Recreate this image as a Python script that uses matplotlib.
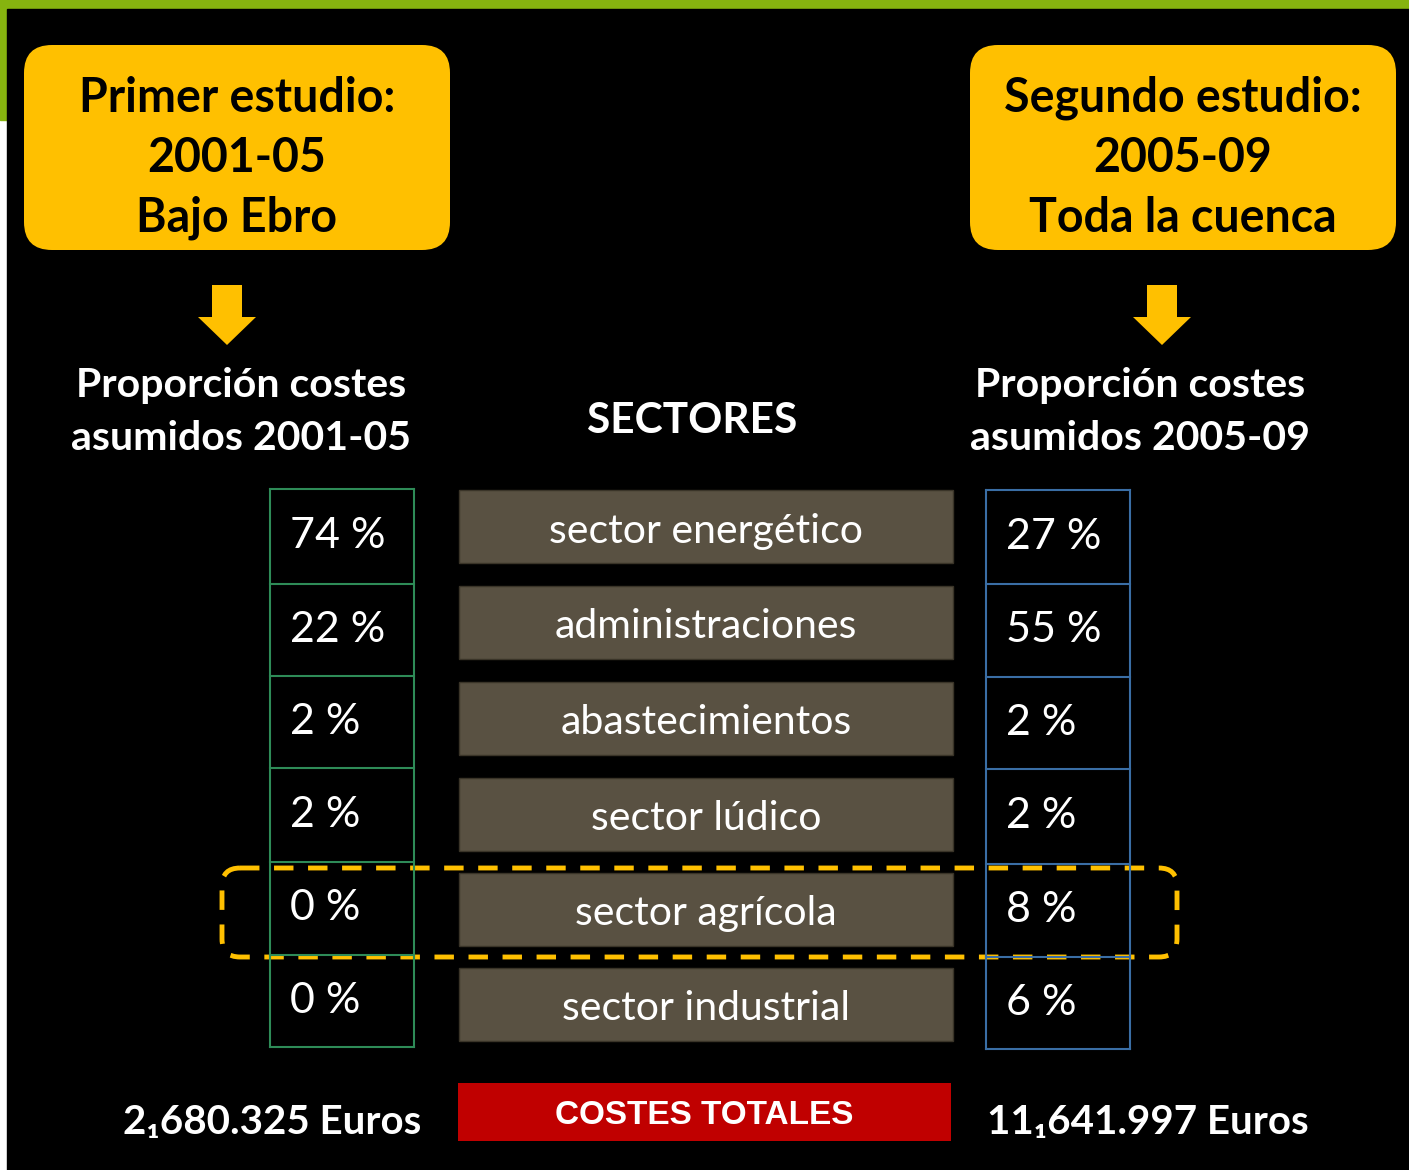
import matplotlib.pyplot as plt
from matplotlib.patches import Rectangle, FancyBboxPatch, FancyArrow

# data
studies = ["Primer estudio:\n2001-05\nBajo Ebro", "Segundo estudio:\n2005-09\nToda la cuenca"]
prop_titles = ["Proporción costes\nasumidos 2001-05", "Proporción costes\nasumidos 2005-09"]
sectors = ["sector energético", "administraciones", "abastecimientos",
           "sector lúdico", "sector agrícola", "sector industrial"]
pct_2001 = [74, 22, 2, 2, 0, 0]
pct_2005 = [27, 55, 2, 2, 8, 6]
totals = ["2₁680.325 Euros", "11₁641.997 Euros"]

plt.rcParams['font.family'] = ['Lato', 'DejaVu Sans']

W, H = 1409, 1170
fig = plt.figure(figsize=(W / 100, H / 100), dpi=100)
ax = fig.add_axes([0, 0, 1, 1])
ax.set_xlim(0, W)
ax.set_ylim(H, 0)
ax.axis('off')
fig.patch.set_facecolor('white')

green = '#86B40F'
yellow = '#FFC000'
ax.add_patch(Rectangle((0, 0), W, 9, color=green))
ax.add_patch(Rectangle((0, 0), 7, 120, color=green))
ax.add_patch(Rectangle((7, 9), W - 7, H - 9, color='black'))

# study boxes
for cx, txt in zip([237, 1183], studies):
    ax.add_patch(FancyBboxPatch((cx - 213 + 28, 45 + 28), 426 - 56, 205 - 56,
                                boxstyle="round,pad=28", fc=yellow, ec='none'))
    for i, line in enumerate(txt.split("\n")):
        ax.text(cx, 98 + 60 * i, line, ha='center', va='center', fontsize=33.5,
                fontweight='bold', color='black')

# arrows
for cx in [227, 1162]:
    ax.add_patch(FancyArrow(cx, 285, 0, 60, width=30, head_width=58,
                            head_length=28, length_includes_head=True,
                            fc=yellow, ec='none'))

for cx, txt in zip([241, 1140], prop_titles):
    for i, line in enumerate(txt.split("\n")):
        ax.text(cx, 385 + 53 * i, line, ha='center', va='center', fontsize=29.5,
                fontweight='bold', color='white')

ax.text(692, 421, "SECTORES", ha='center', va='center', fontsize=30.5,
        fontweight='bold', color='white')

# tables
left_rows = [489, 584, 676, 768, 862, 955, 1047]
right_rows = [490, 584, 677, 769, 864, 957, 1049]
bar_tops = [490, 586, 682, 778, 873, 968]

for x0, x1, rows, vals, col, tx in [(270, 414, left_rows, pct_2001, '#2E8B57', 290),
                                     (986, 1130, right_rows, pct_2005, '#3A6EA5', 1006)]:
    for y in rows:
        ax.plot([x0, x1], [y, y], color=col, lw=1.5)
    ax.plot([x0, x0], [rows[0], rows[-1]], color=col, lw=1.5)
    ax.plot([x1, x1], [rows[0], rows[-1]], color=col, lw=1.5)
    for i, v in enumerate(vals):
        yc = (rows[i] + rows[i + 1]) / 2
        ax.text(tx, yc, f"{v} %", ha='left', va='center', fontsize=31,
                color='white')

for yt, s in zip(bar_tops, sectors):
    ax.add_patch(Rectangle((459, yt), 494, 73, fc='#595142', ec='#3a3428', lw=1))
    ax.text(706, yt + 41, s, ha='center', va='center', fontsize=29.5, color='white')

# highlight agricultural row
ax.add_patch(FancyBboxPatch((222 + 18, 868 + 18), 955 - 36, 89 - 36,
                            boxstyle="round,pad=18", fc='none', ec=yellow,
                            lw=3.5, ls=(0, (4, 3))))

# totals
ax.add_patch(Rectangle((458, 1083), 493, 58, fc='#C00000', ec='none'))
ax.text(704, 1115, "COSTES TOTALES", ha='center', va='center', fontsize=24,
        fontweight='bold', color='white', family=['Liberation Sans', 'DejaVu Sans'])
for cx, t in zip([272, 1148], totals):
    ax.text(cx, 1123, t, ha='center', va='center', fontsize=29,
            fontweight='bold', color='white')

fig.savefig('out.png', dpi=100, facecolor=fig.get_facecolor())
